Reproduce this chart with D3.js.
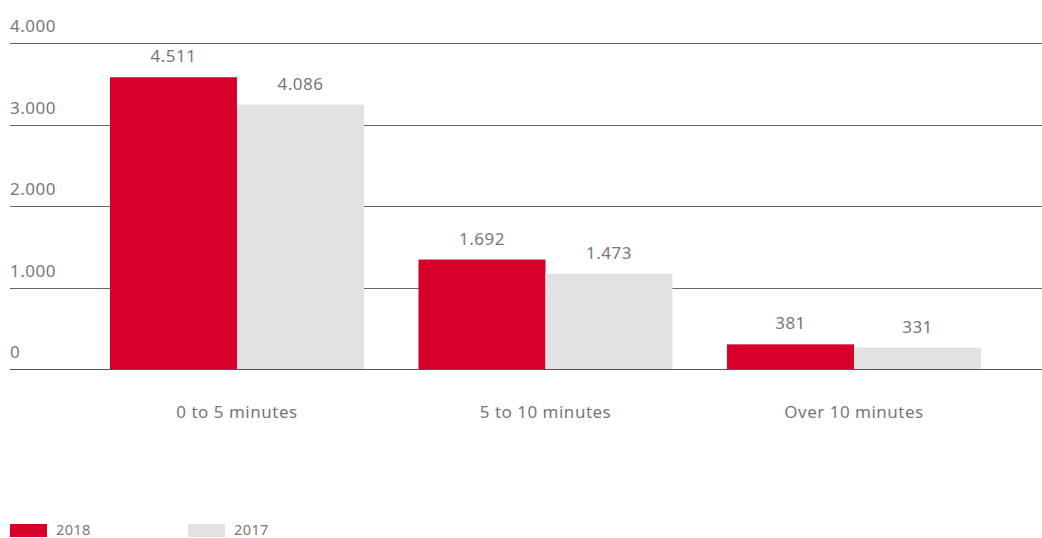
<!DOCTYPE html>
<html>
<head>
<meta charset="utf-8">
<script src="https://cdn.jsdelivr.net/npm/d3@7/dist/d3.min.js"></script>
<style>
  html, body { margin: 0; padding: 0; background: #fff; }
  svg { display: block; font-family: "Noto Sans", Roboto, sans-serif; }
</style>
</head>
<body>
<svg id="chart" width="1042" height="538"></svg>
<script>
// Response time categories and counts per year
const categories = ["0 to 5 minutes", "5 to 10 minutes", "Over 10 minutes"];
const seriesNames = ["2018", "2017"];
const values2018 = [4511, 1692, 381];
const values2017 = [4086, 1473, 331];
const tickValues = [0, 1000, 2000, 3000, 4000];

const colors = { "2018": "#d7002a", "2017": "#e2e2e2" };
const textColor = "#777";

const locale = d3.formatLocale({ decimal: ",", thousands: ".", grouping: [3], currency: ["", "€"] });
const fmt = locale.format(",d");

const svg = d3.select("#chart");

const baseY = 369, topY = 43;

// Gridline scale for the printed axis
const yAxisScale = d3.scaleLinear().domain([0, 4000]).range([baseY, topY]);
// Bar scale
const yBar = d3.scaleLinear().domain([0, 5040]).range([baseY, topY]);

const x0 = d3.scaleBand()
  .domain(categories)
  .range([82.75, 1008.25])
  .paddingInner(0.1767)
  .paddingOuter(0.0883);
const x1 = d3.scaleBand().domain(seriesNames).range([0, x0.bandwidth()]);

// gridlines and tick labels
const grid = svg.append("g");
grid.selectAll("line").data(tickValues).join("line")
  .attr("x1", 10).attr("x2", 1042)
  .attr("y1", d => Math.round(yAxisScale(d)) + 0.5)
  .attr("y2", d => Math.round(yAxisScale(d)) + 0.5)
  .attr("stroke", d => d === 0 ? "#555" : "#666")
  .attr("stroke-width", 1);
grid.selectAll("text").data(tickValues).join("text")
  .attr("x", 10)
  .attr("y", d => yAxisScale(d) - 11)
  .attr("fill", textColor)
  .attr("font-size", 17)
  .attr("letter-spacing", 0.5)
  .text(d => fmt(d));

const data = categories.map((c, i) => ({
  category: c,
  items: [
    { series: "2018", value: values2018[i] },
    { series: "2017", value: values2017[i] }
  ]
}));

const groups = svg.append("g").selectAll("g").data(data).join("g")
  .attr("transform", d => `translate(${x0(d.category)},0)`);

groups.selectAll("rect").data(d => d.items).join("rect")
  .attr("x", d => x1(d.series))
  .attr("width", x1.bandwidth())
  .attr("y", d => yBar(d.value))
  .attr("height", d => baseY - yBar(d.value))
  .attr("fill", d => colors[d.series]);

groups.selectAll("text.val").data(d => d.items).join("text")
  .attr("class", "val")
  .attr("x", d => x1(d.series) + x1.bandwidth() / 2)
  .attr("y", d => yBar(d.value) - 15)
  .attr("text-anchor", "middle")
  .attr("fill", textColor)
  .attr("font-size", 17)
  .attr("letter-spacing", 0.5)
  .text(d => fmt(d.value));

// category labels
svg.append("g").selectAll("text").data(categories).join("text")
  .attr("x", d => x0(d) + x0.bandwidth() / 2)
  .attr("y", 418)
  .attr("text-anchor", "middle")
  .attr("fill", textColor)
  .attr("font-size", 17)
  .attr("letter-spacing", 0.5)
  .text(d => d);

// legend
const legend = svg.append("g").selectAll("g").data(seriesNames).join("g")
  .attr("transform", (d, i) => `translate(${10 + i * 178},524)`);
legend.append("rect")
  .attr("width", 37).attr("height", 13)
  .attr("fill", d => colors[d]);
legend.append("text")
  .attr("x", 46).attr("y", 11)
  .attr("fill", textColor)
  .attr("font-size", 14.5)
  .attr("letter-spacing", 0.4)
  .text(d => d);
</script>
</body>
</html>
